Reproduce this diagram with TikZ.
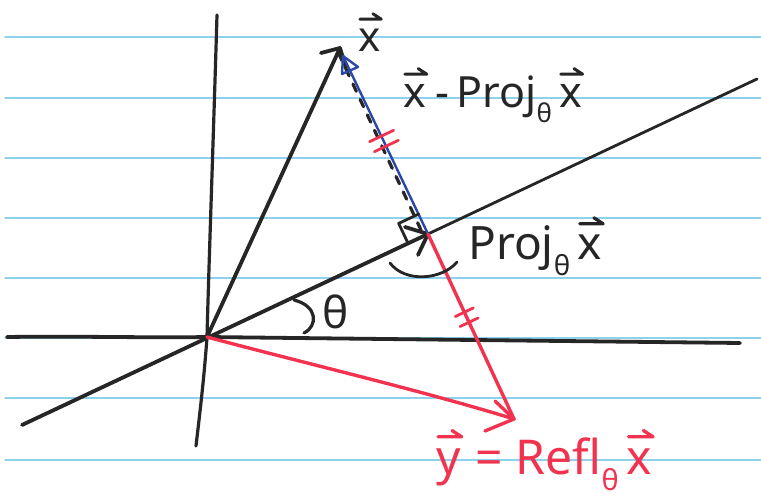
\documentclass[tikz,border=0pt]{standalone}
\usepackage{graphicx}
\usepackage{fontspec}
\setmainfont{Noto Sans}
\usetikzlibrary{calc}
\newcommand\ovarrow[1]{\tikz[baseline=(vv.base),x=1em,y=1em,line cap=round,line join=round]{%
  \node[inner sep=0pt,outer sep=0pt](vv){#1};
  \draw[color=.,line width=0.07em] ($(vv.north west)+(0.04,0.24)$) -- ($(vv.north east)+(0.02,0.24)$) -- ++(-0.2,0.13);}}
\newcommand\subth{\raisebox{-0.35em}{\scalebox{0.6}{θ}}}
\definecolor{paper}{HTML}{8DD2EA}
\definecolor{ink}{HTML}{262626}
\definecolor{penred}{HTML}{F2334F}
\definecolor{penblue}{HTML}{2B47A8}
\begin{document}
\begin{tikzpicture}[x=1pt,y=-1pt,line cap=round,line join=round,
  rule/.style={paper,line width=1.4pt},
  axis/.style={ink,line width=3.8pt},
  thinaxis/.style={ink,line width=2.8pt},
  redline/.style={penred,line width=3.4pt},
  blueline/.style={penblue,line width=2.4pt},
  tick/.style={penred,line width=2.8pt},
  lab/.style={inner sep=0pt,anchor=west}]
\useasboundingbox (0,0) rectangle (761,502);
\fill[white] (0,0) rectangle (761,502);
\foreach \yy in {37,98,158,218,278,338,398,460}
  \draw[rule] (5,\yy) -- (761,\yy);
% key points
\coordinate (O) at (207,337);
\coordinate (X) at (340,48);
\coordinate (P) at (428,234);
\coordinate (Y) at (514,419);
\coordinate (Vt) at (217,15);
\coordinate (Vb) at (196,446);
\coordinate (Hl) at (7,337);
\coordinate (Hr) at (740,343);
\coordinate (Ll) at (22,425);
\coordinate (Lr) at (757,79);
% axes and line
\draw[axis,line width=3.2pt] (Vt) .. controls (213,150) and (209,260) .. (O) .. controls (204,380) and (199,420) .. (Vb);
\draw[axis] (Hl) .. controls (80,336) and (150,338) .. (O) -- (Hr);
\draw[axis] (Ll) -- (P);
\draw[thinaxis] (P) -- (Lr);
% vector x with barbs
\coordinate (Xb1) at (321,53);
\coordinate (Xb2) at (346,68);
\draw[axis] (O) -- (X);
\draw[axis] (Xb1) -- (X) -- (Xb2);
% projection vector head
\coordinate (Pb1) at (405,227);
\coordinate (Pb2) at (418,255);
\draw[axis] (Pb1) -- (P) -- (Pb2);
% dashed and blue difference vector
\draw[ink,line width=3.2pt,dash pattern=on 8pt off 9pt] ($(P)+(-7,-4)$) -- ($(X)+(-2,4)$);
\coordinate (T) at (343,56);
\coordinate (Tb1) at (342,74);
\coordinate (Tb2) at (358,67);
\draw[blueline] (P) -- (T);
\draw[blueline] (T) -- (Tb1) -- (Tb2) -- cycle;
% red reflection
\coordinate (Yb1) at (495,401);
\coordinate (Yb2) at (485,431);
\draw[redline] (P) -- (Y);
\draw[redline] (O) .. controls (300,362) and (420,390) .. (Y);
\draw[redline] (Yb1) -- (Y) -- (Yb2);
% right angle mark
\coordinate (A) at ($(P)!22pt!(O)$);
\coordinate (C) at ($(P)!22pt!(X)$);
\draw[ink,line width=2.8pt] (A) -- ($(A)+(C)-(P)$) -- (C);
% tick marks
\coordinate (M1) at ($(P)!0.5!(X)$);
\coordinate (M2) at ($(P)!0.45!(Y)$);
\foreach \s in {-1,1}{
  \draw[tick] ($(M1)+(\s*2.4,\s*5)+(-12,5.7)$) -- ($(M1)+(\s*2.4,\s*5)+(12,-5.7)$);
  \draw[tick] ($(M2)+(\s*2.4,\s*5)+(-9,4.3)$) -- ($(M2)+(\s*2.4,\s*5)+(9,-4.3)$);
}
% brace under projection and angle arc
\draw[ink,line width=2.8pt] (390,263) .. controls (405,283) and (442,280) .. (457,262);
\draw[ink,line width=3.2pt] (294,300) .. controls (318,306) and (318,326) .. (304,333);
% labels
\node[lab,ink,font=\fontsize{42}{42}\selectfont] (lx) at (358,32) {\ovarrow{x}};
\node[lab,ink,font=\fontsize{44}{44}\selectfont] (lth) at (322,312) {θ};
\node[lab,ink,font=\fontsize{43}{43}\selectfont] (ldiff) at (403,95) {\ovarrow{x}\,-\,Proj\subth\,\ovarrow{x}};
\node[lab,ink,font=\fontsize{46}{46}\selectfont] (lproj) at (468,246) {Proj\subth\,\ovarrow{x}};
\node[lab,penred,font=\fontsize{48}{48}\selectfont] (lrefl) at (436,460) {\ovarrow{y} = Refl\subth\,\ovarrow{x}};
\end{tikzpicture}
\end{document}
